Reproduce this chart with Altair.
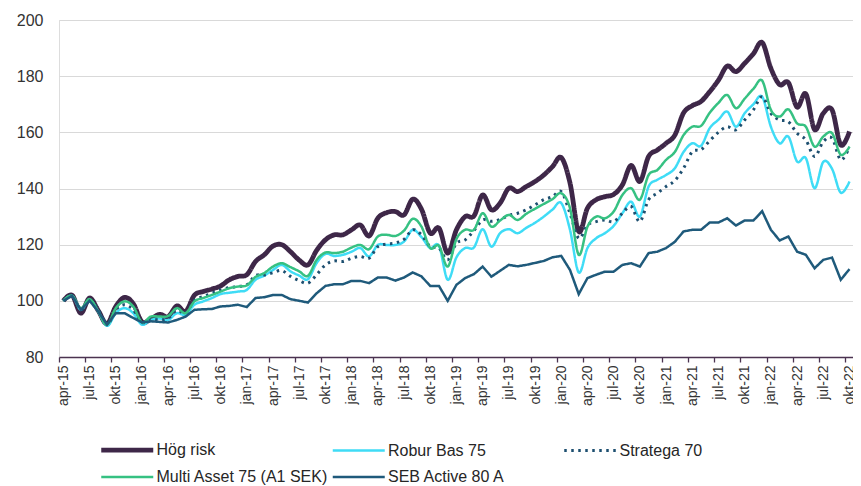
import altair as alt
import pandas as pd

# ---- data -------------------------------------------------------------
tick_labels = ["apr-15", "jul-15", "okt-15", "jan-16", "apr-16", "jul-16", "okt-16",
               "jan-17", "apr-17", "jul-17", "okt-17", "jan-18", "apr-18", "jul-18",
               "okt-18", "jan-19", "apr-19", "jul-19", "okt-19", "jan-20", "apr-20",
               "jul-20", "okt-20", "jan-21", "apr-21", "jul-21", "okt-21", "jan-22",
               "apr-22", "jul-22", "okt-22"]

series_names = ["Hög risk", "Robur Bas 75", "Stratega 70",
                "Multi Asset 75 (A1 SEK)", "SEB Active 80 A"]

hog_risk = [100, 102, 95.6, 101, 96.5, 91.8, 98, 101.2, 99, 92.5,
            93.5, 95.2, 94.4, 98.2, 96.2, 102, 103.3, 104.2, 105.3, 107.5,
            108.7, 109.3, 114, 116.4, 119.5, 120, 117.5, 114.5, 112.8, 118,
            121.7, 123.5, 123.5, 125.3, 127, 123.1, 129.4, 131.4, 131.8, 130.6,
            136.2, 132.6, 124.1, 125.9, 117, 125.3, 130, 130.2, 137.7, 132.4,
            134.8, 140.1, 138.9, 140.7, 142.5, 144.8, 147.8, 151, 142, 124.7,
            133, 136, 137.1, 137.9, 141.3, 148.2, 142.5, 151.4, 153.7, 156.1,
            159, 166.9, 169.5, 171, 174.5, 178.6, 183.6, 181.6, 184.6, 188,
            192, 182.8, 177, 177.7, 169, 173.7, 161, 166.8, 168, 155.5, 160.3]

robur_bas_75 = [100, 101.8, 96.8, 100.4, 96.2, 91.1, 95.6, 97.4, 95.6, 91.5,
                93.2, 93.7, 93.2, 95.6, 95, 98.6, 99.8, 101, 102.4, 102.9,
                103.3, 103.9, 107.5, 109, 111, 112.8, 110.5, 109, 107.7, 113.5,
                116.7, 116, 116.4, 117.5, 118.8, 115.8, 119.9, 119.9, 119.9, 121.1,
                125.3, 122.7, 118.8, 119.6, 107.5, 115.5, 118.8, 119, 125.5, 119.3,
                124.1, 125.5, 124.1, 126, 127.8, 130, 132.5, 134.8, 125.3, 110.1,
                118.8, 122.3, 124.1, 126.7, 131.2, 135.3, 130, 140.7, 143.1, 144.8,
                147.2, 153, 156.1, 155.2, 161.5, 164.5, 167.4, 162, 166.8, 170,
                172.7, 162, 156.1, 158.5, 149.6, 150.8, 140.1, 149.5, 147, 138.5, 142.5]

stratega_70 = [100, 101.8, 96.8, 100.4, 96.8, 91.5, 96.8, 98.6, 96.8, 92.3,
               93.5, 93.2, 93.8, 96.6, 95.6, 100.2, 101.5, 102.7, 103.9, 104.7,
               105.1, 105.7, 109, 109.2, 110, 110.8, 108.7, 107.2, 106.3, 109.3,
               112.8, 114.2, 114, 115.2, 115.8, 115.2, 119.3, 120.2, 120.6, 121.9,
               125.3, 123.5, 119.3, 118.8, 114.6, 120.5, 121.7, 125, 128.8, 128.3,
               129, 130.4, 131.2, 132.4, 134.2, 136, 137.1, 138.9, 131.2, 122.3,
               127, 128.2, 128.8, 128.2, 131.2, 133.6, 128.2, 136, 138.3, 140.7,
               142.8, 147.2, 153.1, 153.8, 157, 160, 162, 160.9, 164.4, 168,
               172.7, 166.8, 164.4, 163.8, 159.7, 157.3, 151.4, 156.7, 157.9, 150.2, 154.9]

multi_asset_75 = [100, 101.8, 97.4, 100.6, 96.2, 91.5, 97.4, 99.8, 98, 92.3,
                  94.4, 94.4, 94.6, 97.4, 95.6, 99.8, 101, 102.1, 103.3, 104.5,
                  105.1, 105.5, 108.5, 109.9, 112.2, 113.4, 112, 110.5, 108.9, 114.6,
                  117.2, 117, 117.5, 119, 119.9, 118.4, 122.9, 123.5, 123.1, 125,
                  129.2, 126.4, 118.8, 119.6, 112.2, 122, 125.3, 125.3, 131.2, 126.4,
                  128.6, 130.6, 128.8, 131, 132.8, 134.5, 136.2, 138.3, 133, 116.4,
                  126.4, 130, 129.4, 131.8, 137.7, 140.1, 136, 144.8, 146.6, 150.2,
                  153, 159, 162, 162.3, 167, 170.5, 173.3, 168.6, 172, 175.5,
                  178.4, 168, 165.6, 168.2, 163.2, 162, 154.9, 158.5, 159.7, 152, 154.9]

seb_active_80 = [100, 101.8, 96.8, 100, 96.2, 91.5, 95.6, 95.6, 93.9, 92.3,
                 92.7, 92.5, 92.3, 93.2, 94.4, 96.8, 97, 97.1, 98, 98.2,
                 98.6, 97.8, 101, 101.3, 102.1, 102.1, 100.6, 100, 99.4, 102.7,
                 105.3, 105.9, 105.9, 107.1, 107.1, 106.3, 108.3, 108.3, 107.2, 108.3,
                 110.1, 108.7, 105.3, 105.3, 100, 105.7, 108.1, 109.5, 112.2, 108.6,
                 110.7, 112.8, 112.3, 112.8, 113.5, 114.2, 115.5, 116, 111, 102.4,
                 108.1, 109.3, 110.4, 110.4, 112.8, 113.4, 112.2, 117, 117.5, 118.8,
                 121, 124.7, 125.3, 125.3, 127.9, 127.9, 129.4, 126.8, 128.6, 128.6,
                 131.9, 125.3, 121.5, 122.9, 117.5, 116.4, 111.6, 114.6, 115.4, 107.5, 111.3]

all_series = [hog_risk, robur_bas_75, stratega_70, multi_asset_75, seb_active_80]

colors = ["#3e2748", "#3fdcf6", "#1d4f70", "#36c182", "#1f5a7b"]
widths = [4.8, 2.5, 3, 2.5, 2.5]
dashes = [[1, 0], [1, 0], [2.5, 4.5], [1, 0], [1, 0]]

rows = []
for name, vals in zip(series_names, all_series):
    for i, v in enumerate(vals):
        rows.append({"serie": name, "m": i, "v": v})
df = pd.DataFrame(rows)

FONT = "Liberation Sans"
label_js = "[" + ",".join("'%s'" % t for t in tick_labels) + "]"

x_enc = alt.X("m:Q",
              scale=alt.Scale(domain=[-0.5, 90.4], nice=False, zero=False),
              axis=alt.Axis(values=list(range(0, 91, 3)),
                            labelExpr=label_js + "[round(datum.value/3)]",
                            labelAngle=-90, labelFontSize=14, labelFont=FONT,
                            labelColor="#333333", labelPadding=3,
                            tickOffset=-4.37, labelOffset=4.37,
                            tickSize=5, tickColor="#4b3350", tickWidth=1.3,
                            domainColor="#4b3350", domainWidth=1.5,
                            grid=False, title=None))
y_enc = alt.Y("v:Q",
              scale=alt.Scale(domain=[80, 200], nice=False, zero=False),
              axis=alt.Axis(values=list(range(80, 201, 20)), grid=True,
                            gridColor="#d9d9d9", gridWidth=1.2,
                            domain=False, ticks=False, labelPadding=16,
                            labelFontSize=16, labelFont=FONT,
                            labelColor="#333333", title=None))

legend = alt.Legend(orient="none", legendX=43, legendY=421, columns=3,
                    direction="horizontal",
                    gridAlign="all", columnPadding=-2.5, rowPadding=9,
                    symbolType="M-1.5,0H6.5", symbolSize=169, labelFontSize=16,
                    labelFont=FONT, labelColor="#262626", labelLimit=400,
                    labelOffset=36.5, padding=0, title=None)

color_enc = alt.Color("serie:N", scale=alt.Scale(domain=series_names, range=colors),
                      legend=legend, sort=series_names)
width_enc = alt.StrokeWidth("serie:N",
                            scale=alt.Scale(type="ordinal", domain=series_names, range=widths),
                            legend=legend, sort=series_names)
dash_enc = alt.StrokeDash("serie:N", scale=alt.Scale(domain=series_names, range=dashes),
                          legend=legend, sort=series_names)

base = alt.Chart(df).encode(x=x_enc, y=y_enc, color=color_enc,
                            strokeWidth=width_enc, strokeDash=dash_enc)

smooth = base.transform_filter(alt.datum.serie != "SEB Active 80 A").mark_line(
    interpolate="cardinal")
straight = base.transform_filter(alt.datum.serie == "SEB Active 80 A").mark_line(
    interpolate="linear")

chart = alt.layer(smooth, straight).properties(
    width=794, height=337,
    padding={"left": 51, "top": 12, "right": 0, "bottom": 128},
    autosize="none",
).configure_view(stroke=None).configure(background="white")

chart.save("out.html", embed_options={"renderer": "svg", "actions": False})
